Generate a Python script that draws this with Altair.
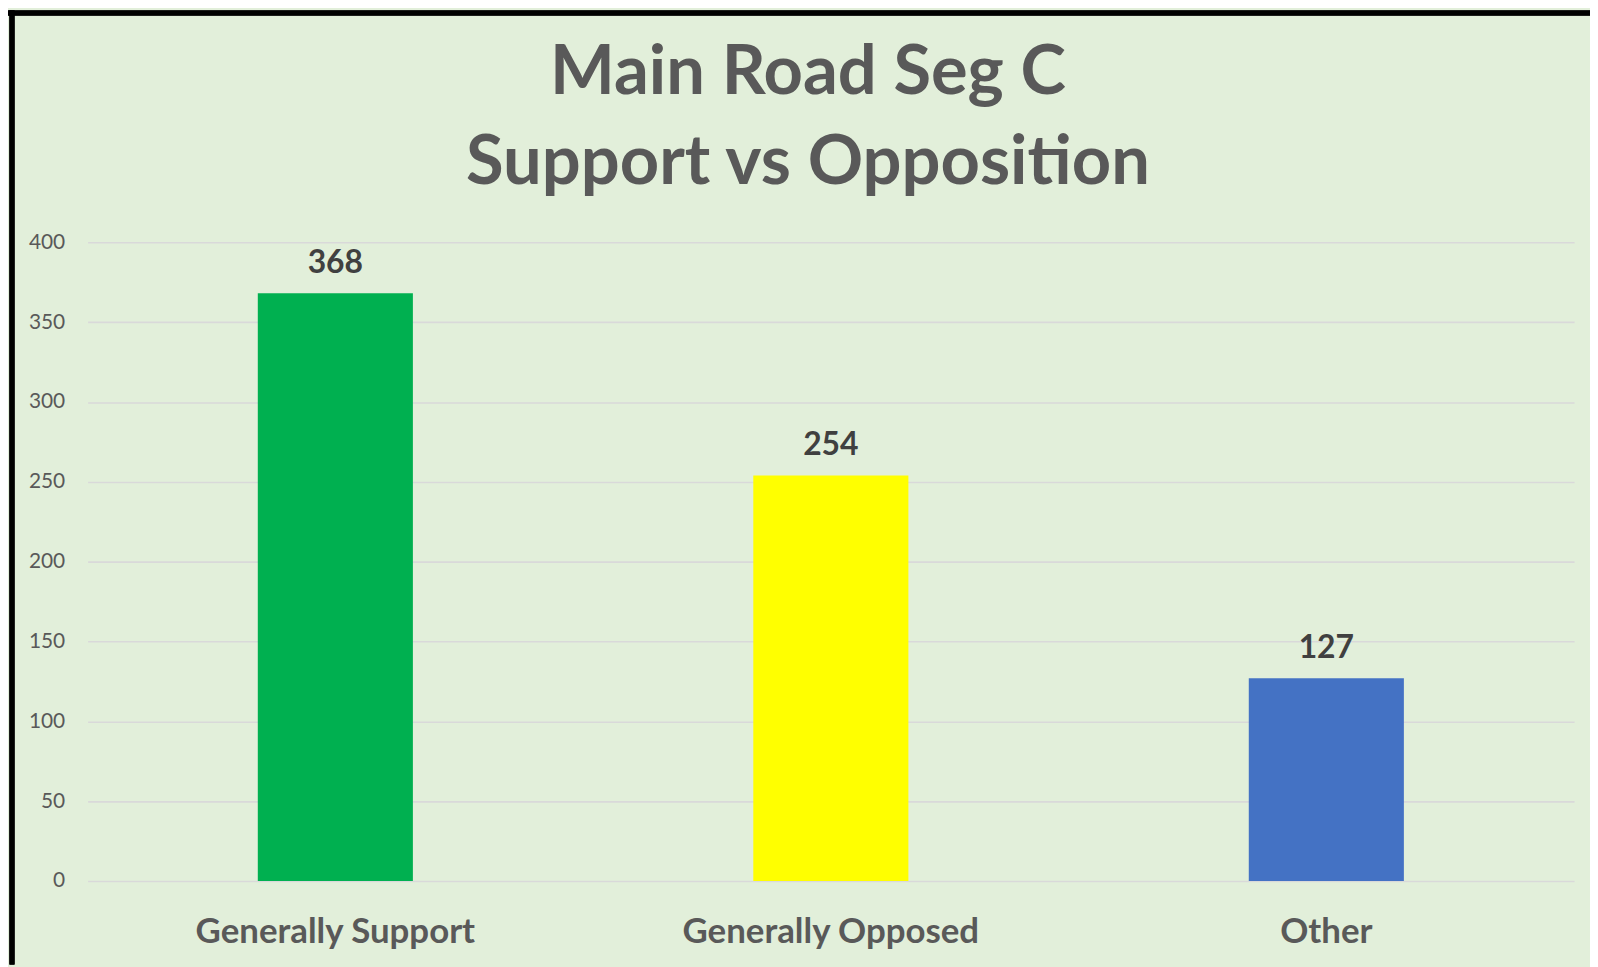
import altair as alt
import pandas as pd

categories = ["Generally Support", "Generally Opposed", "Other"]
values = [368, 254, 127]
bar_colors = ["#00B050", "#FFFF00", "#4472C4"]
y_ticks = [0, 50, 100, 150, 200, 250, 300, 350, 400]
title_lines = ["Main Road Seg C", "Support vs Opposition"]

df = pd.DataFrame({"category": categories, "value": values})

FONT = "Lato"
W, H = 1494, 642
PAD = {"left": 80, "top": 233, "right": 16, "bottom": 84}

x_enc = alt.X(
    "category:N",
    sort=categories,
    scale=alt.Scale(paddingInner=0.687, paddingOuter=0.3435),
    axis=alt.Axis(
        title=None, ticks=False, domain=False, grid=False, labelAngle=0,
        labelFont=FONT, labelFontSize=35, labelFontWeight="bold",
        labelColor="#595959", labelPadding=34, labelLimit=0,
    ),
)
y_enc = alt.Y(
    "value:Q",
    scale=alt.Scale(domain=[0, 400], nice=False),
    axis=alt.Axis(
        title=None, values=y_ticks, ticks=False, domain=False,
        grid=True, gridColor="#D9D9D9", gridWidth=1.6,
        labelFont=FONT, labelFontSize=21, labelColor="#595959", labelPadding=23,
    ),
)

base = alt.Chart(df)

bars = base.mark_bar().encode(
    x=x_enc,
    y=y_enc,
    color=alt.Color("category:N", scale=alt.Scale(domain=categories, range=bar_colors), legend=None),
)

labels = base.mark_text(
    font=FONT, fontSize=32, fontWeight="bold", color="#404040",
    baseline="alphabetic", dy=-20,
).encode(
    x=alt.X("category:N", sort=categories),
    y=alt.Y("value:Q"),
    text=alt.Text("value:Q"),
)

border_left = base.mark_rule(color="black", strokeWidth=5).encode(
    x=alt.value(-76), y=alt.value(-233), y2=alt.value(H + PAD["bottom"])
)
border_top = base.mark_rule(color="black", strokeWidth=5).encode(
    y=alt.value(-230.5), x=alt.value(-80), x2=alt.value(W + PAD["right"])
)

chart = (
    alt.layer(bars, labels, border_left, border_top)
    .properties(
        width=W, height=H,
        padding=PAD,
        autosize=alt.AutoSizeParams(type="none"),
        background="#E2EFDA",
        title=alt.TitleParams(
            text=title_lines, font=FONT, fontSize=69, fontWeight="bold",
            color="#595959", anchor="middle", frame="group", baseline="alphabetic",
            lineHeight=90, dx=-23, dy=246, offset=0,
        ),
    )
    .configure_view(stroke=None)
)

chart.save("out.html", embed_options={"renderer": "svg", "actions": False})
